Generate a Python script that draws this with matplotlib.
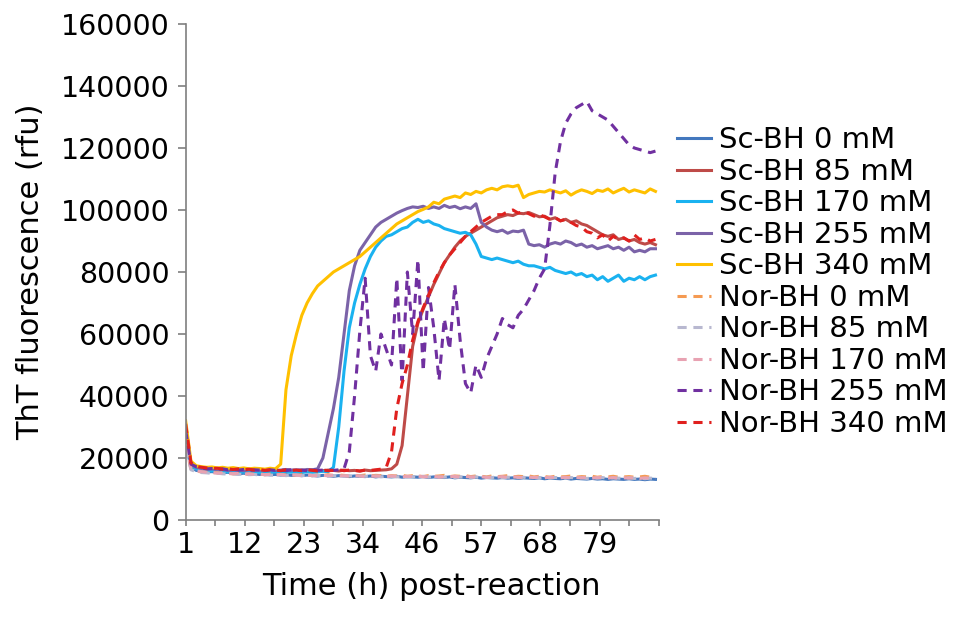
import matplotlib
matplotlib.use('Agg')
import matplotlib.pyplot as plt
import numpy as np

# sampling grid, hours after start (one reading per hour)
hours = np.arange(1, 91)

x_tick_pos = [1, 12.2, 23.4, 34.6, 45.8, 57.0, 68.2, 79.4]
x_tick_labels = ['1', '12', '23', '34', '46', '57', '68', '79']

# ThT fluorescence readings, in thousands of rfu
sc_0 = [25.0, 17.0, 16.0, 15.8, 15.5, 15.6, 15.3, 15.2, 15.4, 15.0,
        14.9, 15.1, 14.8, 14.9, 14.7, 14.8, 14.6, 14.7, 14.5, 14.6,
        14.4, 14.5, 14.3, 14.5, 14.4, 14.2, 14.4, 14.3, 14.1, 14.3,
        14.2, 14.0, 14.2, 14.1, 14.0, 14.2, 13.9, 14.1, 14.0, 13.9,
        14.1, 13.8, 14.0, 13.9, 13.8, 14.0, 13.7, 13.9, 13.8, 13.7,
        13.9, 13.6, 13.8, 13.7, 13.6, 13.8, 13.5, 13.7, 13.6, 13.5,
        13.7, 13.5, 13.6, 13.4, 13.6, 13.5, 13.4, 13.6, 13.3, 13.5,
        13.4, 13.3, 13.5, 13.2, 13.4, 13.3, 13.2, 13.4, 13.2, 13.3,
        13.1, 13.3, 13.2, 13.1, 13.3, 13.1, 13.2, 13.0, 13.2, 13.1]
sc_85 = [28.0, 18.0, 17.0, 16.8, 16.5, 16.6, 16.3, 16.4, 16.2, 16.0,
         16.3, 16.1, 15.9, 16.2, 16.0, 15.8, 16.1, 16.0, 15.9, 16.2,
         16.0, 15.8, 16.1, 15.9, 16.2, 16.0, 15.9, 16.1, 16.0, 15.8,
         16.1, 15.9, 16.0, 15.8, 16.1, 15.9, 16.0, 16.1, 16.2, 16.5,
         18.0, 24.0, 40.0, 56.0, 63.5, 68.0, 72.0, 76.0, 79.5, 83.0,
         85.5, 88.0, 90.0, 91.5, 92.5, 93.5, 94.5, 95.5, 96.5, 97.5,
         98.0, 98.5, 98.2, 99.0, 98.8, 99.2, 98.5, 97.8, 98.0, 97.0,
         97.5, 96.5, 97.0, 96.0, 96.5, 95.5, 95.0, 94.0, 93.0, 92.0,
         91.5, 92.0, 90.5, 91.0, 90.0, 90.5, 89.5, 89.0, 89.5, 88.8]
sc_170 = [27.0, 17.5, 16.5, 16.2, 16.0, 15.8, 16.0, 15.7, 15.5, 15.8,
          15.6, 15.4, 15.7, 15.5, 15.3, 15.6, 15.4, 15.5, 15.3, 15.6,
          15.4, 15.5, 15.3, 15.6, 15.4, 15.5, 15.7, 15.6, 17.0, 30.0,
          48.0, 62.0, 70.0, 76.0, 81.0, 85.0, 88.0, 90.0, 91.5, 92.0,
          93.0, 94.0, 94.5, 96.0, 97.0, 96.0, 96.5, 95.5, 95.0, 94.0,
          93.5, 93.0, 92.5, 92.8, 92.0, 89.0, 85.0, 84.5, 84.0, 84.5,
          84.0, 83.5, 83.0, 83.5, 82.5, 82.0, 82.0, 81.5, 81.0, 81.5,
          80.5, 80.0, 79.5, 80.0, 79.0, 79.5, 78.5, 79.0, 77.5, 78.5,
          77.0, 78.0, 79.0, 77.0, 78.0, 77.5, 78.5, 77.5, 78.5, 79.0]
sc_255 = [30.0, 18.0, 17.0, 16.6, 16.4, 16.5, 16.2, 16.3, 16.0, 16.2,
          16.1, 15.9, 16.2, 16.0, 16.1, 15.9, 16.2, 16.0, 16.1, 16.3,
          16.1, 16.2, 16.0, 16.3, 16.2, 16.5, 20.0, 28.0, 36.0, 46.0,
          60.0, 74.0, 82.0, 87.0, 89.5, 92.0, 94.5, 96.0, 97.0, 98.0,
          99.0, 99.8, 100.5, 101.0, 100.8, 101.2, 100.5, 101.0, 100.5, 101.5,
          100.8, 101.2, 100.4, 101.0, 100.5, 102.0, 96.0, 94.5, 93.5, 93.0,
          93.5, 92.5, 93.2, 93.0, 93.5, 89.0, 88.5, 88.8, 88.0, 89.0,
          89.5, 89.0, 90.0, 89.5, 88.5, 89.0, 88.0, 88.5, 87.5, 88.0,
          88.5, 87.5, 88.0, 87.0, 88.0, 86.5, 87.0, 86.5, 87.5, 87.5]
sc_340 = [32.0, 19.0, 17.5, 17.2, 17.0, 17.1, 16.8, 17.0, 16.7, 16.9,
          16.6, 16.8, 16.5, 16.7, 16.6, 16.4, 16.7, 16.5, 18.0, 42.0,
          53.0, 60.0, 66.0, 70.0, 73.0, 75.5, 77.0, 78.5, 80.0, 81.0,
          82.0, 83.0, 84.0, 85.0, 86.5, 88.0, 89.5, 91.0, 92.5, 94.0,
          95.5, 96.5, 97.5, 98.5, 99.5, 100.2, 101.0, 102.5, 102.0, 103.5,
          104.0, 104.5, 104.0, 105.5, 105.0, 106.0, 105.5, 106.5, 107.0, 106.5,
          107.5, 107.8, 107.5, 108.0, 104.0, 105.0, 105.5, 106.0, 105.8, 106.5,
          106.0, 105.5, 106.2, 104.8, 105.8, 106.5, 106.0, 105.3, 106.4, 106.0,
          106.8, 105.5, 106.3, 107.0, 105.8, 106.5, 106.0, 105.5, 106.8, 106.0]
nor_0 = [24.0, 16.5, 15.8, 15.5, 15.4, 15.2, 15.3, 15.0, 15.1, 14.9,
         15.0, 14.8, 14.9, 14.7, 14.9, 14.6, 14.8, 14.6, 14.7, 14.5,
         14.6, 14.4, 14.6, 14.5, 14.3, 14.5, 14.4, 14.6, 14.3, 14.5,
         14.4, 14.2, 14.4, 14.3, 14.5, 14.2, 14.4, 14.3, 14.1, 14.3,
         14.2, 14.4, 14.1, 14.3, 14.2, 14.0, 14.3, 14.1, 14.2, 14.4,
         14.0, 14.2, 14.1, 14.3, 14.0, 14.2, 14.1, 13.9, 14.2, 14.0,
         14.1, 14.3, 13.9, 14.1, 14.0, 14.2, 13.9, 14.1, 14.0, 13.8,
         14.1, 13.9, 14.0, 14.2, 13.8, 14.0, 13.9, 14.1, 13.8, 14.0,
         13.9, 14.1, 13.8, 13.9, 14.0, 13.8, 13.9, 14.1, 13.8, 13.9]
nor_85 = [23.0, 16.2, 15.6, 15.3, 15.2, 15.0, 15.1, 14.9, 14.8, 14.9,
          14.7, 14.8, 14.6, 14.7, 14.5, 14.6, 14.5, 14.4, 14.6, 14.3,
          14.5, 14.4, 14.3, 14.4, 14.2, 14.4, 14.3, 14.1, 14.3, 14.2,
          14.1, 14.3, 14.0, 14.2, 14.1, 14.0, 14.2, 13.9, 14.1, 14.0,
          13.9, 14.1, 13.8, 14.0, 13.9, 14.1, 13.8, 14.0, 13.9, 13.8,
          14.0, 13.7, 13.9, 13.8, 13.7, 13.9, 13.6, 13.8, 13.7, 13.9,
          13.6, 13.8, 13.7, 13.6, 13.8, 13.5, 13.7, 13.6, 13.8, 13.5,
          13.7, 13.6, 13.5, 13.7, 13.5, 13.6, 13.4, 13.6, 13.5, 13.7,
          13.4, 13.6, 13.5, 13.4, 13.6, 13.4, 13.5, 13.3, 13.5, 13.4]
nor_170 = [24.5, 16.8, 15.9, 15.6, 15.4, 15.3, 15.1, 15.2, 15.0, 14.9,
           15.1, 14.8, 14.9, 14.7, 14.8, 14.6, 14.7, 14.5, 14.7, 14.4,
           14.6, 14.5, 14.3, 14.5, 14.4, 14.2, 14.4, 14.3, 14.5, 14.2,
           14.3, 14.1, 14.3, 14.2, 14.0, 14.2, 14.1, 14.3, 14.0, 14.2,
           14.1, 13.9, 14.1, 14.0, 14.2, 13.9, 14.0, 14.1, 13.8, 14.0,
           13.9, 14.1, 13.8, 14.0, 13.9, 13.8, 14.0, 13.7, 13.9, 13.8,
           14.0, 13.7, 13.9, 13.8, 13.6, 13.8, 13.7, 13.9, 13.6, 13.8,
           13.7, 13.6, 13.8, 13.5, 13.7, 13.6, 13.8, 13.5, 13.7, 13.6,
           13.5, 13.7, 13.4, 13.6, 13.5, 13.7, 13.4, 13.6, 13.5, 13.4]
nor_255 = [29.0, 18.0, 17.2, 16.8, 16.5, 16.6, 16.3, 16.5, 16.2, 16.4,
           16.1, 16.3, 16.0, 16.2, 16.1, 15.9, 16.2, 16.0, 16.1, 15.9,
           16.2, 16.0, 16.1, 15.9, 16.2, 16.0, 16.1, 16.3, 16.0, 16.2,
           16.5, 22.0, 40.0, 61.0, 78.0, 53.0, 48.0, 60.0, 55.0, 50.0,
           78.0, 45.0, 80.0, 60.0, 84.0, 48.0, 75.0, 62.0, 45.0, 65.0,
           55.0, 76.0, 58.0, 44.0, 41.0, 50.0, 46.0, 52.0, 56.0, 60.0,
           65.0, 63.0, 62.0, 66.0, 68.0, 71.0, 74.0, 78.0, 81.0, 95.0,
           112.0, 122.0, 128.0, 131.0, 133.0, 134.0, 135.0, 132.0, 131.0, 130.0,
           129.0, 127.0, 125.0, 123.0, 121.0, 120.0, 119.5, 119.0, 118.5, 119.0]
nor_340 = [31.0, 18.5, 17.3, 17.0, 16.8, 16.6, 16.7, 16.4, 16.5, 16.3,
           16.5, 16.2, 16.4, 16.1, 16.3, 16.0, 16.2, 16.1, 15.9, 16.2,
           16.0, 16.1, 15.9, 16.2, 16.0, 15.8, 16.1, 15.9, 16.0, 16.2,
           15.9, 16.1, 16.0, 15.8, 16.1, 16.0, 16.2, 16.4, 17.0, 22.0,
           36.0, 44.0, 50.0, 58.0, 64.0, 68.5, 72.5, 76.5, 80.0, 83.0,
           85.5, 87.5, 89.5, 91.5, 93.0, 94.5, 96.0, 97.0, 98.0, 98.5,
           98.5, 99.5, 100.0, 99.0, 99.5, 98.8, 98.0, 98.5, 97.8, 97.0,
           97.5, 96.5, 97.0, 96.0, 95.0, 94.5, 93.0, 92.5, 91.0, 92.0,
           90.0, 91.5, 90.5, 91.0, 90.0, 92.0, 90.5, 91.0, 90.0, 90.5]

labels = ['Sc-BH 0 mM', 'Sc-BH 85 mM', 'Sc-BH 170 mM', 'Sc-BH 255 mM', 'Sc-BH 340 mM',
          'Nor-BH 0 mM', 'Nor-BH 85 mM', 'Nor-BH 170 mM', 'Nor-BH 255 mM', 'Nor-BH 340 mM']
series = [sc_0, sc_85, sc_170, sc_255, sc_340, nor_0, nor_85, nor_170, nor_255, nor_340]
colors = ['#4378BE', '#BE4B48', '#1AB2F0', '#7B63A8', '#FFC000',
          '#F59A52', '#B8B8D0', '#E8A2B2', '#7030A0', '#E0201E']

fig = plt.figure(figsize=(9.69, 6.2), dpi=100)
ax = fig.add_axes([0.1916, 0.1613, 0.4881, 0.8])

for vals, lab, col in zip(series, labels, colors):
    y = np.array(vals) * 1000
    if lab.startswith('Nor'):
        ax.plot(hours, y, color=col, lw=2.2, label=lab, dashes=(3.0, 2.2))
    else:
        ax.plot(hours, y, color=col, lw=2.2, label=lab)

ax.set_xlim(1, 90.6)
ax.set_ylim(0, 160000)
ax.set_yticks(np.arange(0, 160001, 20000))
ax.set_yticklabels([str(v) for v in range(0, 160001, 20000)])
ax.set_xticks(np.arange(1, 90.7, 5.6), minor=True)
ax.set_xticks(x_tick_pos)
ax.set_xticklabels(x_tick_labels)

for s in ['top', 'right']:
    ax.spines[s].set_visible(False)
for s in ['left', 'bottom']:
    ax.spines[s].set_color('#7F7F7F')
    ax.spines[s].set_linewidth(1.2)
ax.tick_params(axis='y', which='both', length=5.5, width=1.2, color='#7F7F7F', pad=6, labelsize=20.5)
ax.tick_params(axis='x', which='both', length=4, width=1.2, color='#7F7F7F', pad=4, labelsize=20.5)

ax.set_ylabel('ThT fluorescence (rfu)', fontsize=22, labelpad=11)
ax.set_xlabel('Time (h) post-reaction', fontsize=22, labelpad=8)
ax.xaxis.set_label_coords(0.519, -0.105)

fig.legend(loc='upper left', bbox_to_anchor=(0.6987, 0.796), frameon=False,
           borderpad=0, borderaxespad=0, handlelength=1.15, handletextpad=0.3,
           labelspacing=0.12, fontsize=21)

fig.savefig('out.png', dpi=100)
